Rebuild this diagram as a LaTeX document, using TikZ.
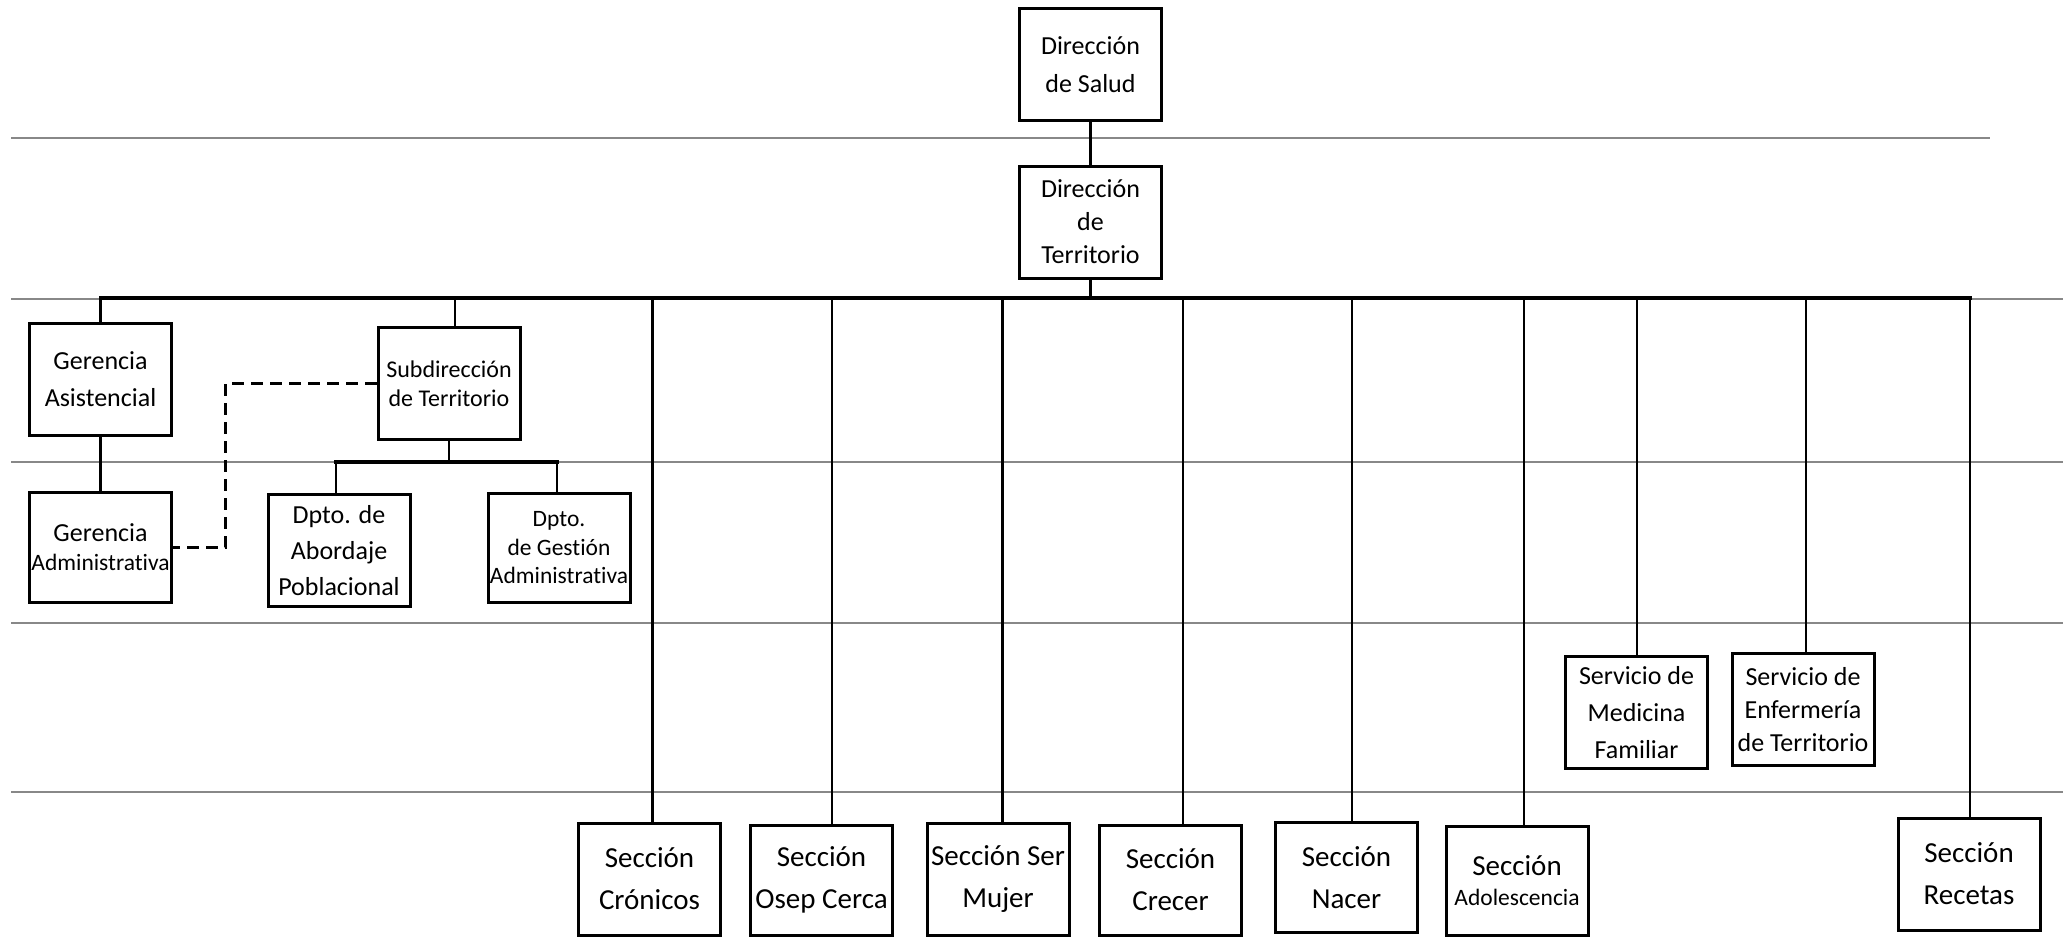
\documentclass[tikz,border=0pt]{standalone}
\usepackage{fontspec}
\setmainfont{Carlito}[Ligatures={NoCommon}]
\definecolor{gridgray}{RGB}{136,136,136}
\begin{document}
\begin{tikzpicture}[x=1pt,y=-1pt,
  box/.style={draw, line width=3pt, inner sep=0pt, align=center, minimum width=142pt, minimum height=112pt},
  sec/.style={font=\fontsize{29}{42}\selectfont},
  conn/.style={line width=2.7pt},
  busline/.style={line width=3.5pt, line cap=rect},
  gridline/.style={draw=gridgray, line width=2.5pt},
  dashconn/.style={line width=3pt, dash pattern=on 12pt off 7pt}]
\useasboundingbox (0,0) rectangle (2071,938);
% background guide lines
\foreach \yy/\xe in {138/1990, 299/2063, 462/2063, 623/2063, 792/2063}
  \draw[gridline] (11,\yy) -- (\xe,\yy);
% nodes
\node[box, font=\fontsize{26}{38}\selectfont] (sal) at (1090.5,64.5) {Dirección\\de Salud};
\node[box, font=\fontsize{26}{33}\selectfont] (ter) at (1090.5,222) {Dirección\\de\\Territorio};
\node[box, font=\fontsize{26}{37}\selectfont] (gas) at (100.5,379.5) {Gerencia\\Asistencial};
\node[box, font=\fontsize{24}{29}\selectfont] (sub) at (449,383.5) {Subdirección\\de Territorio};
\node[box, minimum height=110pt, font=\fontsize{26}{29}\selectfont] (gad) at (100.5,547.5) {Gerencia\\{\fontsize{23.5}{29}\selectfont Administrativa}};
\node[box, font=\fontsize{26}{36}\selectfont] (abo) at (339,550.5) {Dpto. de\\Abordaje\\Poblacional};
\node[box, minimum height=109pt, font=\fontsize{23.5}{28.5}\selectfont] (ges) at (559,548) {Dpto.\\de Gestión\\Administrativa};
\node[box, sec] (cro) at (649.5,879) {Sección\\Crónicos};
\node[box, sec, minimum height=110pt] (ose) at (821.5,880) {Sección\\Osep Cerca};
\node[box, sec] (ser) at (998,879) {Sección Ser\\Mujer};
\node[box, sec, minimum height=110pt] (cre) at (1170.5,880) {Sección\\Crecer};
\node[box, sec, minimum height=110pt] (nac) at (1346.5,877.5) {Sección\\Nacer};
\node[box, minimum height=109pt, font=\fontsize{29}{30}\selectfont] (ado) at (1517,880.5) {Sección\\{\fontsize{23.5}{30}\selectfont Adolescencia}};
\node[box, font=\fontsize{26}{37}\selectfont] (med) at (1636.5,712.5) {Servicio de\\Medicina\\Familiar};
\node[box, font=\fontsize{26}{33}\selectfont] (enf) at (1803,709.5) {Servicio de\\Enfermería\\de Territorio};
\node[box, sec] (rec) at (1969,874) {Sección\\Recetas};
% connectors
\coordinate (bus) at (0,298);
\coordinate (sb) at (0,462);
\draw[conn] (sal.south) -- (ter.north);
\draw[conn] (ter.south) -- (ter.south |- bus);
\draw[busline] (gas.north |- bus) -- ([xshift=1pt]rec.north |- bus);
\foreach \n/\dx in {gas/0, sub/6, cro/3, ose/10.5, ser/4.5, cre/12.5, nac/5.5, ado/7, med/0.5, enf/3, rec/1}
  \draw[conn] ([xshift=\dx pt]\n.north) -- ([xshift=\dx pt]\n.north |- bus);
\draw[conn] (gas.south) -- (gad.north);
\draw[conn] (sub.south) -- (sub.south |- sb);
\draw[busline] ([xshift=-3pt]abo.north |- sb) -- ([xshift=-2pt]ges.north |- sb);
\draw[conn] ([xshift=-3pt]abo.north) -- ([xshift=-3pt]abo.north |- sb);
\draw[conn] ([xshift=-2pt]ges.north) -- ([xshift=-2pt]ges.north |- sb);
\coordinate (dk) at (225,383.5);
\draw[dashconn] (sub.west) -- (dk) |- (gad.east);
\end{tikzpicture}
\end{document}
